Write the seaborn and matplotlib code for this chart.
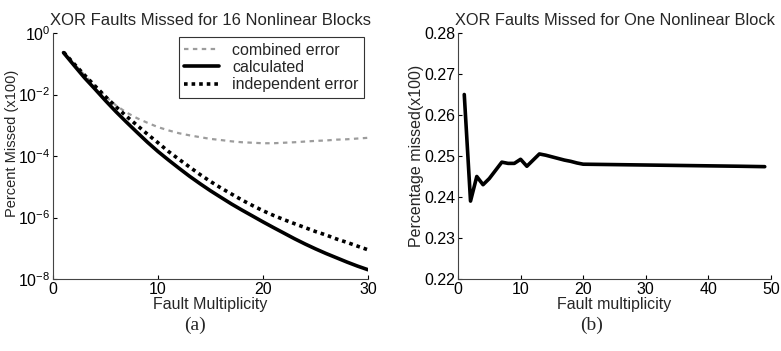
import matplotlib
matplotlib.use("Agg")
import matplotlib.pyplot as plt
import seaborn as sns
from matplotlib.ticker import FixedLocator, NullLocator, LogFormatterMathtext

sns.set_style("ticks")
plt.rcParams['font.family'] = ['Liberation Sans', 'DejaVu Sans']

# ---- panel (a): 16 nonlinear blocks ----
multiplicity = list(range(1, 31))
combined_error = [2.4e-1, 1.0e-1, 4.3e-2, 1.9e-2, 8.8e-3, 4.4e-3, 2.6e-3, 1.7e-3, 1.2e-3, 8.7e-4,
                  6.8e-4, 5.5e-4, 4.7e-4, 4.1e-4, 3.6e-4, 3.3e-4, 3.0e-4, 2.8e-4, 2.7e-4, 2.6e-4,
                  2.6e-4, 2.7e-4, 2.8e-4, 2.95e-4, 3.1e-4, 3.2e-4, 3.4e-4, 3.5e-4, 3.7e-4, 3.9e-4]
calculated = [2.3e-1, 8.9e-2, 3.5e-2, 1.5e-2, 6.3e-3, 2.75e-3, 1.26e-3, 5.9e-4, 2.8e-4, 1.4e-4,
              7.4e-5, 4.0e-5, 2.2e-5, 1.26e-5, 7.4e-6, 4.5e-6, 2.75e-6, 1.74e-6, 1.12e-6, 7.2e-7,
              4.7e-7, 3.1e-7, 2.04e-7, 1.38e-7, 9.55e-8, 6.76e-8, 4.9e-8, 3.55e-8, 2.63e-8, 2.0e-8]
independent_error = [2.4e-1, 1.0e-1, 4.3e-2, 1.9e-2, 8.5e-3, 4.0e-3, 1.95e-3, 1.0e-3, 5.1e-4, 2.7e-4,
                     1.4e-4, 7.8e-5, 4.4e-5, 2.5e-5, 1.48e-5, 9.1e-6, 5.8e-6, 3.7e-6, 2.45e-6, 1.66e-6,
                     1.17e-6, 8.5e-7, 6.3e-7, 4.7e-7, 3.5e-7, 2.7e-7, 2.0e-7, 1.55e-7, 1.17e-7, 8.9e-8]
a_yticks = [1e-8, 1e-6, 1e-4, 1e-2, 1e0]
a_xticks = [0, 10, 20, 30]

# ---- panel (b): one nonlinear block ----
mult_b = [1, 2, 3, 4, 5, 6, 7, 8, 9, 10, 11, 12, 13, 14, 15, 16, 17, 18, 19, 20,
          25, 30, 35, 40, 45, 49]
missed_b = [0.265, 0.239, 0.245, 0.243, 0.2445, 0.2465, 0.2485, 0.2482, 0.2482, 0.2492,
            0.2475, 0.249, 0.2505, 0.2502, 0.2498, 0.2494, 0.249, 0.2487, 0.2483, 0.248,
            0.2479, 0.2478, 0.2477, 0.2476, 0.2475, 0.2474]
b_yticks = [0.22, 0.23, 0.24, 0.25, 0.26, 0.27, 0.28]
b_xticks = [0, 10, 20, 30, 40, 50]

W, H = 781, 351
fig = plt.figure(figsize=(W / 100, H / 100), dpi=100)
ax1 = fig.add_axes([53 / W, 1 - 279 / H, 315 / W, 246 / H])
ax2 = fig.add_axes([458 / W, 1 - 279 / H, 313 / W, 246 / H])

sns.lineplot(x=multiplicity, y=combined_error, ax=ax1, color='#9c9c9c', lw=1.6,
             linestyle=(0, (2.0, 2.0)), label='combined error')
sns.lineplot(x=multiplicity, y=calculated, ax=ax1, color='black', lw=2.6,
             label='calculated')
sns.lineplot(x=multiplicity, y=independent_error, ax=ax1, color='black', lw=2.6,
             linestyle=(0, (1.0, 1.1)), label='independent error')

ax1.set_yscale('log')
ax1.set_ylim(1e-8, 1e0)
ax1.set_xlim(0, 30)
ax1.yaxis.set_major_locator(FixedLocator(a_yticks))
ax1.yaxis.set_major_formatter(LogFormatterMathtext())
ax1.yaxis.set_minor_locator(NullLocator())
ax1.xaxis.set_major_locator(FixedLocator(a_xticks))
ax1.set_title('XOR Faults Missed for 16 Nonlinear Blocks', fontsize=12, pad=6)
ax1.set_xlabel('Fault Multiplicity', fontsize=11.5, labelpad=0)
ax1.set_ylabel('Percent Missed (x100)', fontsize=10.5)
ax1.yaxis.set_label_coords(-0.108, 0.55)
leg = ax1.legend(loc='upper right', frameon=True, fancybox=False, edgecolor='#333333',
                 framealpha=1, fontsize=11.5, borderaxespad=0.25, labelspacing=0.15,
                 handlelength=2.2, borderpad=0.35)
leg.get_frame().set_linewidth(0.8)

sns.lineplot(x=mult_b, y=missed_b, ax=ax2, color='black', lw=2.6)
ax2.set_ylim(0.22, 0.28)
ax2.set_xlim(0, 50)
ax2.yaxis.set_major_locator(FixedLocator(b_yticks))
ax2.xaxis.set_major_locator(FixedLocator(b_xticks))
ax2.set_yticklabels([f'{v:.2f}' for v in b_yticks])
ax2.set_title('XOR Faults Missed for One Nonlinear Block', fontsize=11.8, pad=6)
ax2.set_xlabel('Fault multiplicity', fontsize=11.5, labelpad=0)
ax2.set_ylabel('Percentage missed(x100)', fontsize=11.5, labelpad=0)

for ax in (ax1, ax2):
    sns.despine(ax=ax)
    for s in ('left', 'bottom'):
        ax.spines[s].set_color('#444444')
        ax.spines[s].set_linewidth(0.8)
    ax.tick_params(direction='in', length=3, width=0.8, labelsize=11.5, colors='black',
                   pad=2)

fig.text(195 / W, 1 - 325 / H, '(a)', fontsize=14, family='Liberation Serif',
         ha='center', va='center')
fig.text(592 / W, 1 - 325 / H, '(b)', fontsize=14, family='Liberation Serif',
         ha='center', va='center')

fig.savefig('out.png', dpi=100)
